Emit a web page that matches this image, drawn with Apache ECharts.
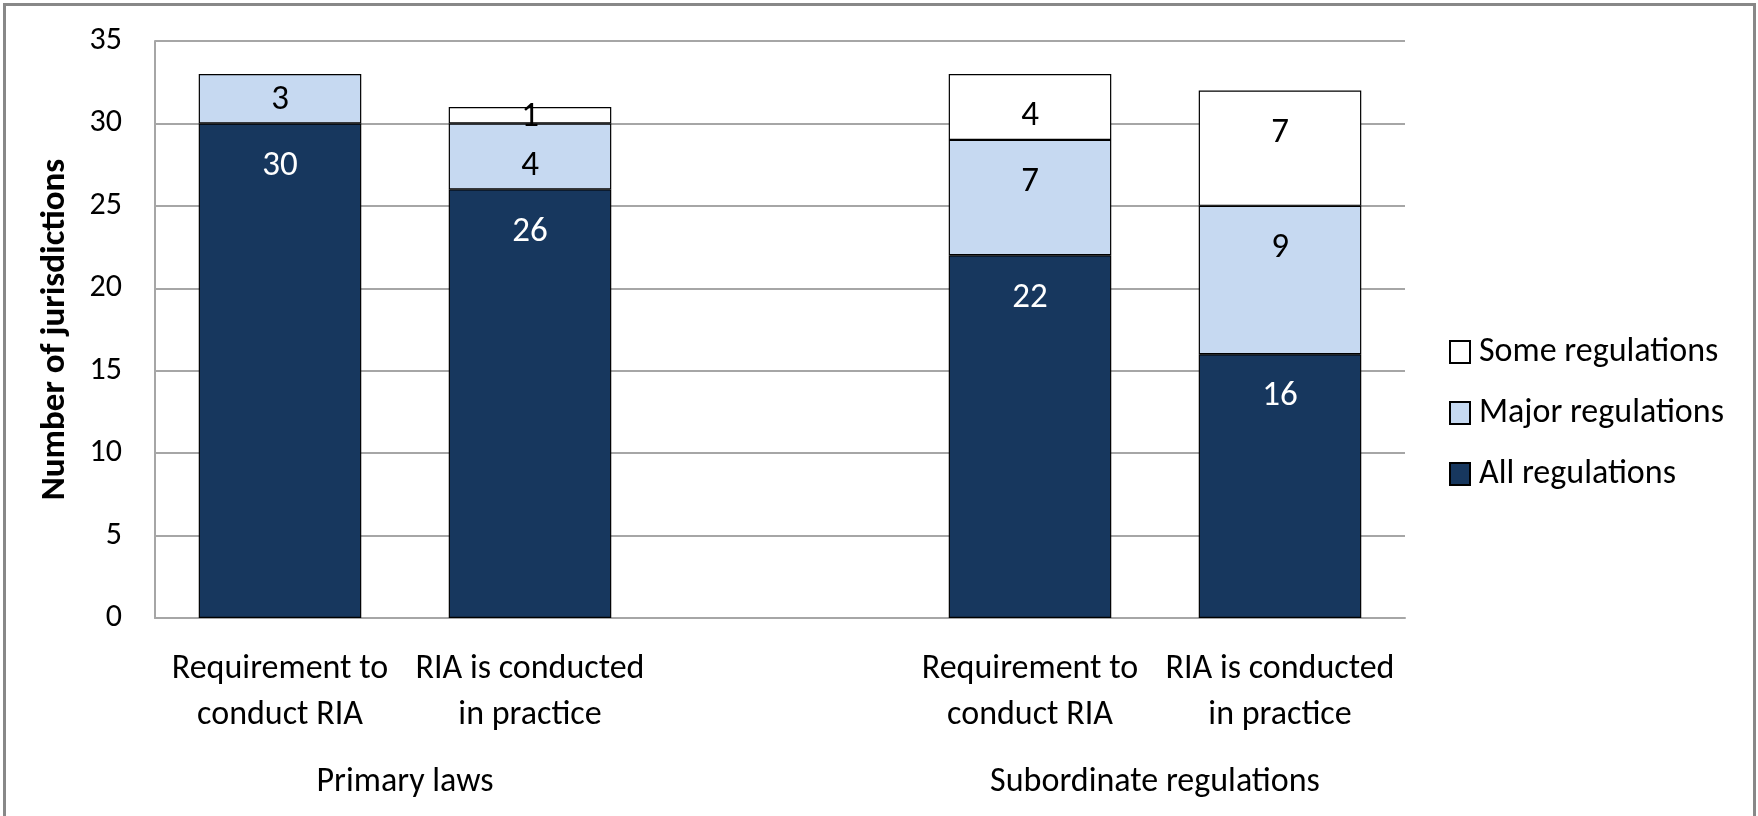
<!DOCTYPE html>
<html>
<head>
<meta charset="utf-8">
<title>RIA chart</title>
<script src="https://cdn.jsdelivr.net/npm/echarts@6/dist/echarts.min.js"></script>
<style>
  html, body { margin: 0; padding: 0; background: #fff; }
  .echart-size { width: 1758px; height: 816px; }
</style>
</head>
<body>
<div class="echart-size" id="riaBar"></div>
<script>
  // categories (the empty one keeps the gap between the two groups)
  var categories = ['Requirement to\nconduct RIA', 'RIA is conducted\nin practice', '', 'Requirement to\nconduct RIA', 'RIA is conducted\nin practice'];
  var groupLabels = ['Primary laws', 'Subordinate regulations'];
  var groupPos = [1, 4]; // on the 0..5 helper axis, between the two bars of each group

  var allRegs = [30, 26, '-', 22, 16];
  var majorRegs = [3, 4, '-', 7, 9];
  var someRegs = ['-', 1, '-', 4, 7];

  var yTicks = [0, 5, 10, 15, 20, 25, 30, 35];

  var fontName = "Carlito, 'Liberation Sans Narrow', Lato, sans-serif";

  var chart = echarts.init(document.getElementById('riaBar'));

  // labels sit near the top of a segment, small segments get them centred
  function withLabels(data) {
    return data.map(function (v) {
      if (v === '-') return v;
      if (v >= 4) return { value: v, label: { position: 'insideTop', distance: 25 } };
      return { value: v, label: { position: 'inside', offset: [0, 2] } };
    });
  }

  function barSeries(name, data, color, labelColor) {
    return {
      name: name,
      type: 'bar',
      stack: 'total',
      barWidth: '65%',
      data: withLabels(data),
      itemStyle: { color: color, borderColor: '#000', borderWidth: 1.2 },
      label: {
        show: true,
        position: 'inside',
        color: labelColor,
        fontFamily: fontName,
        fontSize: 35
      }
    };
  }

  var option = {
    backgroundColor: '#fff',
    animation: false,
    textStyle: { fontFamily: fontName },
    graphic: [{
      type: 'rect',
      silent: true,
      shape: { x: 4.5, y: 4.5, width: 1750, height: 840 },
      style: { fill: 'none', stroke: '#888', lineWidth: 3 }
    }],
    grid: { left: 155, right: 353, top: 41, bottom: 198 },
    legend: {
      orient: 'vertical',
      left: 1444,
      top: 330,
      itemWidth: 20,
      itemHeight: 22,
      itemGap: 27,
      icon: 'rect',
      data: ['Some regulations', 'Major regulations', 'All regulations'],
      textStyle: { fontFamily: fontName, fontSize: 34, color: '#000', padding: [0, 0, 0, 4] }
    },
    xAxis: [{
      type: 'category',
      data: categories,
      axisLine: { lineStyle: { color: '#a6a6a6', width: 2 } },
      axisTick: { show: false },
      axisLabel: {
        interval: 0,
        margin: 28,
        color: '#000',
        fontFamily: fontName,
        fontSize: 34,
        lineHeight: 46
      }
    }, {
      // helper axis only for the group names under the category labels
      type: 'value',
      position: 'bottom',
      offset: 139,
      min: 0,
      max: 5,
      interval: 1,
      axisLine: { show: false },
      axisTick: { show: false },
      splitLine: { show: false },
      axisLabel: {
        margin: 8,
        color: '#000',
        fontFamily: fontName,
        fontSize: 34,
        formatter: function (v) {
          var i = groupPos.indexOf(v);
          return i >= 0 ? groupLabels[i] : '';
        }
      }
    }],
    yAxis: {
      type: 'value',
      min: yTicks[0],
      max: yTicks[yTicks.length - 1],
      interval: 5,
      name: 'Number of jurisdictions',
      nameLocation: 'middle',
      nameGap: 82,
      nameTextStyle: { fontFamily: fontName, fontSize: 35, fontWeight: 'bold', color: '#000' },
      axisLine: { show: true, lineStyle: { color: '#a6a6a6', width: 2 } },
      axisTick: { show: false },
      axisLabel: { margin: 33, color: '#000', fontFamily: fontName, fontSize: 32 },
      splitLine: { lineStyle: { color: '#a6a6a6', width: 2 } }
    },
    series: [
      barSeries('All regulations', allRegs, '#17375E', '#fff'),
      barSeries('Major regulations', majorRegs, '#C6D9F1', '#000'),
      barSeries('Some regulations', someRegs, '#fff', '#000')
    ]
  };

  chart.setOption(option);
</script>
</body>
</html>
